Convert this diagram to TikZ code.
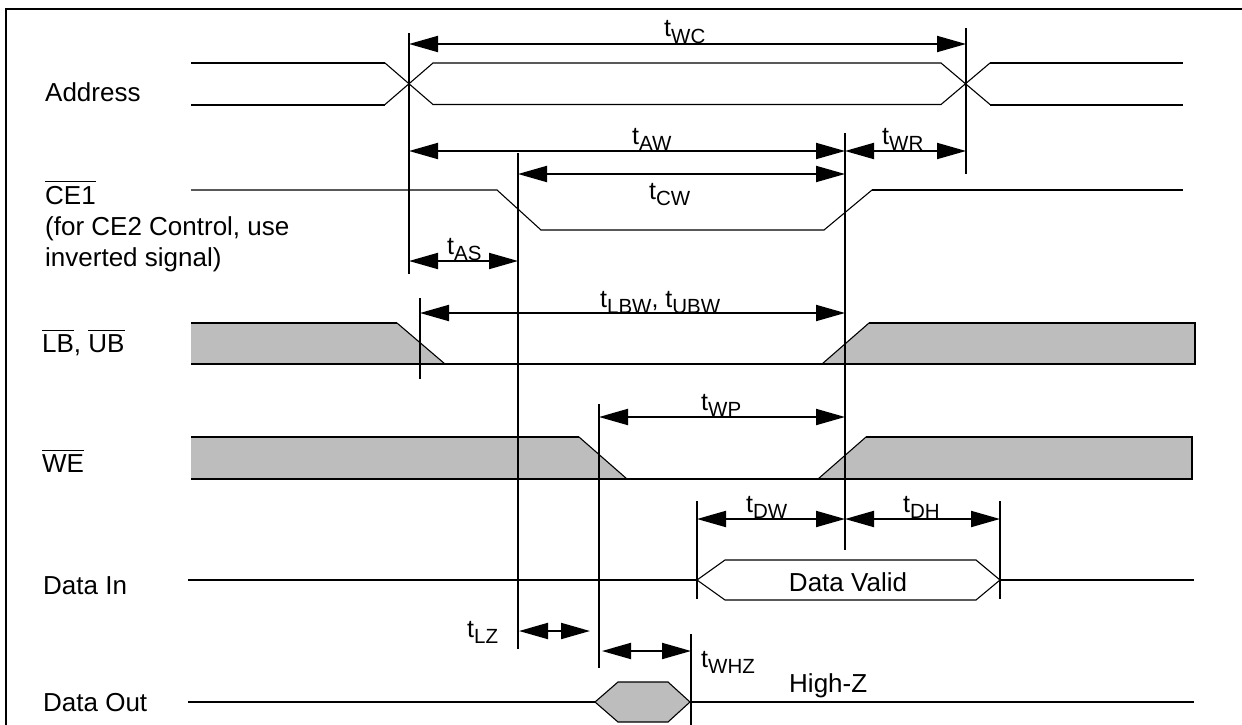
\documentclass[tikz,border=0pt]{standalone}
\usepackage{fontspec}
\setmainfont{Liberation Sans}
\usepackage{tikz}
\usetikzlibrary{arrows.meta}
\colorlet{busgray}{black!26}
\newcommand{\tsub}[1]{t\raisebox{-6.5pt}{\fontsize{20.5}{22}\selectfont #1}}
\newcommand{\ovl}[1]{$\overline{\mbox{#1}\rule{0pt}{21.5pt}}$}

\begin{document}
\begin{tikzpicture}[x=1pt,y=-1pt,
    sig/.style={line width=2pt},
    slope/.style={line width=1.1pt},
    vline/.style={line width=2pt},
    dim/.style={line width=2pt,{Triangle[length=29pt,width=16pt]}-{Triangle[length=29pt,width=16pt]}},
    lbl/.style={font=\fontsize{26}{30}\selectfont,inner sep=0pt,anchor=base west},
    tlbl/.style={font=\fontsize{25}{30}\selectfont,inner sep=0pt,anchor=base west},
    shade/.style={fill=busgray}]
\useasboundingbox (0,0) rectangle (1242,725);
\draw[sig] (6,725) -- (6,9) -- (1242,9);

% signal names
\node[lbl] (addr) at (45,101.7) {Address};
\node[lbl] (ce) at (45,204) {\ovl{CE1}};
\node[lbl] (ce2) at (45,235) {(for CE2 Control, use};
\node[lbl] (ce3) at (45,266) {inverted signal)};
\node[lbl] (lbub) at (42,352.7) {\ovl{LB}, \ovl{UB}};
\node[lbl] (we) at (42,472.7) {\ovl{WE}};
\node[lbl] (din) at (43,594) {Data In};
\node[lbl] (dout) at (43,711.7) {Data Out};

% Address bus
\draw[sig] (191,63) -- (385,63) (191,104.5) -- (385,104.5);
\draw[slope] (385,63) -- (433,104.5) -- (941,104.5) -- (990,63);
\draw[slope] (385,104.5) -- (433,63) -- (941,63) -- (990,104.5);
\draw[sig] (990,63) -- (1183,63) (990,104.5) -- (1183,104.5);

% CE1
\draw[slope] (191,190) -- (497,190) -- (541,230) -- (824,230) -- (872,190);
\draw[sig] (872,190) -- (1183,190);

% LB, UB
\fill[shade] (191,323) -- (397,323) -- (445,364) -- (191,364) -- cycle;
\fill[shade] (822,364) -- (869,323) -- (1195,323) -- (1195,364) -- cycle;
\draw[sig] (191,323) -- (397,323);
\draw[slope] (397,323) -- (445,364) (822,364) -- (869,323);
\draw[sig] (869,323) -- (1195,323) -- (1195,364) -- (191,364);

% WE
\fill[shade] (191,437) -- (579,437) -- (627,479) -- (191,479) -- cycle;
\fill[shade] (818,479) -- (866,437) -- (1192,437) -- (1192,479) -- cycle;
\draw[sig] (191,437) -- (579,437);
\draw[slope] (579,437) -- (627,479) (818,479) -- (866,437);
\draw[sig] (866,437) -- (1192,437) -- (1192,479) -- (191,479);

% Data In
\draw[sig] (188,580) -- (697,580) (1000,580) -- (1194,580);
\draw[slope] (697,580) -- (725,560) -- (976,560) -- (1000,580) -- (976,600) -- (725,600) -- cycle;
\node[font=\fontsize{26}{30}\selectfont,inner sep=0pt] (valid) at (848,582) {Data Valid};

% Data Out
\draw[sig] (188,702) -- (595,702) (690,702) -- (1194,702);
\filldraw[shade,slope] (595,702) -- (618,682) -- (668,682) -- (690,702) -- (668,722) -- (618,722) -- cycle;
\node[lbl] (hiz) at (789,692) {High-Z};

% reference edges
\foreach \n/\x/\a/\b in {wcl/409/33/274, cel/518/153/649, wer/845/133/550, wcr/966/28/174,
    lbl/420/298/379, wel/599/404/668, dvl/697/501/599, dvr/1000/501/599, hz/691/634/725}
{
  \coordinate (\n) at (\x,\a);
  \draw[vline] (\x,\a) -- (\x,\b);
}

% timing arrows
\draw[dim] (wcl |- 0,44) -- (wcr |- 0,44);
\node[tlbl] (twc) at (664,36.7) {\tsub{WC}};
\draw[dim] (wcl |- 0,151) -- (wer |- 0,151);
\node[tlbl] (taw) at (632,144) {\tsub{AW}};
\draw[dim] (wer |- 0,151) -- (wcr |- 0,151);
\node[tlbl] (twr) at (882,144) {\tsub{WR}};
\draw[dim] (cel |- 0,174) -- (wer |- 0,174);
\node[tlbl] (tcw) at (649,199) {\tsub{CW}};
\draw[dim] (wcl |- 0,261) -- (cel |- 0,261);
\node[tlbl] (tas) at (447,254) {\tsub{AS}};
\draw[dim] (lbl |- 0,313) -- (wer |- 0,313);
\node[tlbl] (tlbw) at (600,307) {\tsub{LBW}, \tsub{UBW}};
\draw[dim] (wel |- 0,417) -- (wer |- 0,417);
\node[tlbl] (twp) at (701,410) {\tsub{WP}};
\draw[dim] (dvl |- 0,519) -- (wer |- 0,519);
\node[tlbl] (tdw) at (746,512) {\tsub{DW}};
\draw[dim] (wer |- 0,519) -- (dvr |- 0,519);
\node[tlbl] (tdh) at (903,512) {\tsub{DH}};
\draw[dim] (519,631) -- (590,631);
\node[tlbl] (tlz) at (467,637) {\tsub{LZ}};
\draw[dim] (602,651) -- (hz |- 0,651);
\node[tlbl] (twhz) at (701,667) {\tsub{WHZ}};
\end{tikzpicture}
\end{document}
